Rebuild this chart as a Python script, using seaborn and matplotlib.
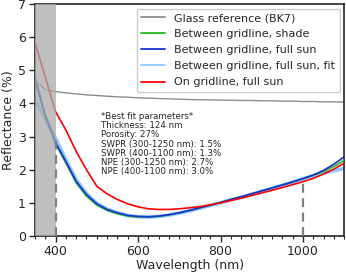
import numpy as np
import pandas as pd
import seaborn as sns
import matplotlib
matplotlib.use('Agg')
import matplotlib.pyplot as plt
from matplotlib.ticker import MultipleLocator

# Comprimentos de onda (nm)
wavelength = [350, 375, 400, 425, 450, 475, 500, 525, 550, 575, 600, 625, 650, 675, 700,
              725, 750, 775, 800, 825, 850, 875, 900, 925, 950, 975, 1000, 1025, 1050, 1075, 1100]

# Refletância (%)
glass_bk7 = [4.70, 4.42, 4.36, 4.32, 4.29, 4.26, 4.24, 4.22, 4.20, 4.19, 4.17, 4.16, 4.15, 4.14, 4.13,
             4.12, 4.11, 4.11, 4.10, 4.10, 4.09, 4.09, 4.08, 4.08, 4.07, 4.07, 4.06, 4.06, 4.05, 4.05, 4.04]
shade = [4.70, 3.60, 2.78, 2.20, 1.60, 1.20, 0.93, 0.77, 0.67, 0.60, 0.57, 0.57, 0.59, 0.64, 0.70,
         0.77, 0.85, 0.93, 1.01, 1.10, 1.18, 1.27, 1.36, 1.45, 1.54, 1.63, 1.73, 1.83, 1.95, 2.10, 2.29]
full_sun = [4.80, 3.65, 2.82, 2.25, 1.65, 1.25, 0.97, 0.80, 0.70, 0.62, 0.59, 0.58, 0.60, 0.64, 0.70,
            0.77, 0.85, 0.93, 1.01, 1.10, 1.18, 1.27, 1.36, 1.45, 1.54, 1.63, 1.73, 1.84, 1.98, 2.17, 2.39]
full_sun_fit = [4.10, 3.55, 2.95, 2.30, 1.70, 1.28, 0.99, 0.81, 0.70, 0.62, 0.58, 0.57, 0.59, 0.63, 0.69,
                0.76, 0.84, 0.92, 1.00, 1.09, 1.17, 1.26, 1.35, 1.44, 1.53, 1.63, 1.73, 1.82, 1.90, 1.97, 2.04]
on_gridline = [5.85, 4.80, 3.75, 3.20, 2.55, 2.00, 1.50, 1.27, 1.10, 0.97, 0.88, 0.82, 0.80, 0.80, 0.82,
               0.85, 0.89, 0.94, 1.00, 1.07, 1.14, 1.22, 1.30, 1.38, 1.46, 1.55, 1.64, 1.74, 1.87, 2.02, 2.20]

labels = ['Glass reference (BK7)', 'Between gridline, shade', 'Between gridline, full sun',
          'Between gridline, full sun, fit', 'On gridline, full sun']
colors = ['#8c8c8c', '#22bb22', '#1a2fd6', '#8ec8ff', '#ff0000']
widths = [1.0, 1.2, 1.2, 2.6, 1.2]
orders = [2, 3, 4, 2.5, 5]
series = [glass_bk7, shade, full_sun, full_sun_fit, on_gridline]

# Limites da faixa medida e marcações tracejadas
dash_x = [400, 1000]
dash_top = [2.9, 1.7]

fit_text = ('*Best fit parameters*\nThickness: 124 nm\nPorosity: 27%\n'
            'SWPR (300-1250 nm): 1.5%\nSWPR (400-1100 nm): 1.3%\n'
            'NPE (300-1250 nm): 2.7%\nNPE (400-1100 nm): 3.0%')

sns.set_style('ticks')

fig, ax = plt.subplots(figsize=(3.46, 2.75), dpi=100)
fig.subplots_adjust(left=0.101, right=0.995, top=0.985, bottom=0.142)

for vals, lab, c, lw, z in zip(series, labels, colors, widths, orders):
    df = pd.DataFrame({'wl': wavelength, 'r': vals})
    sns.lineplot(data=df, x='wl', y='r', color=c, linewidth=lw, label=lab, ax=ax)
    ax.lines[-1].set_zorder(z)

# faixa fora da medição (desbota as curvas por baixo)
ax.axvspan(350, 400, facecolor='#aaaaaa', alpha=0.75, lw=0, zorder=6)
ax.vlines(dash_x, 0, dash_top, colors='#808080', linestyles=(0, (4, 2.5)), linewidth=1.6, zorder=7)

ax.text(510, 3.74, fit_text, fontsize=6.2, va='top', ha='left', linespacing=1.02)

ax.set_xlim(350, 1100)
ax.set_ylim(0, 7)
ax.xaxis.set_major_locator(MultipleLocator(200))
ax.xaxis.set_minor_locator(MultipleLocator(25))
ax.yaxis.set_major_locator(MultipleLocator(1))
ax.tick_params(axis='both', which='major', labelsize=9, length=4, width=1, pad=2.5)
ax.tick_params(axis='x', which='minor', length=2.2, width=0.8)
for s in ax.spines.values():
    s.set_linewidth(1.2)

ax.set_xlabel('Wavelength (nm)', fontsize=9, labelpad=1)
ax.set_ylabel('Reflectance (%)', fontsize=9, labelpad=2)

leg = ax.legend(loc='upper right', fontsize=8, handlelength=2.2, framealpha=1,
                borderaxespad=0.4, edgecolor='#cccccc', labelspacing=0.55)
for h in leg.get_lines():
    h.set_linewidth(1.3)

plt.savefig('out.png', dpi=100)
